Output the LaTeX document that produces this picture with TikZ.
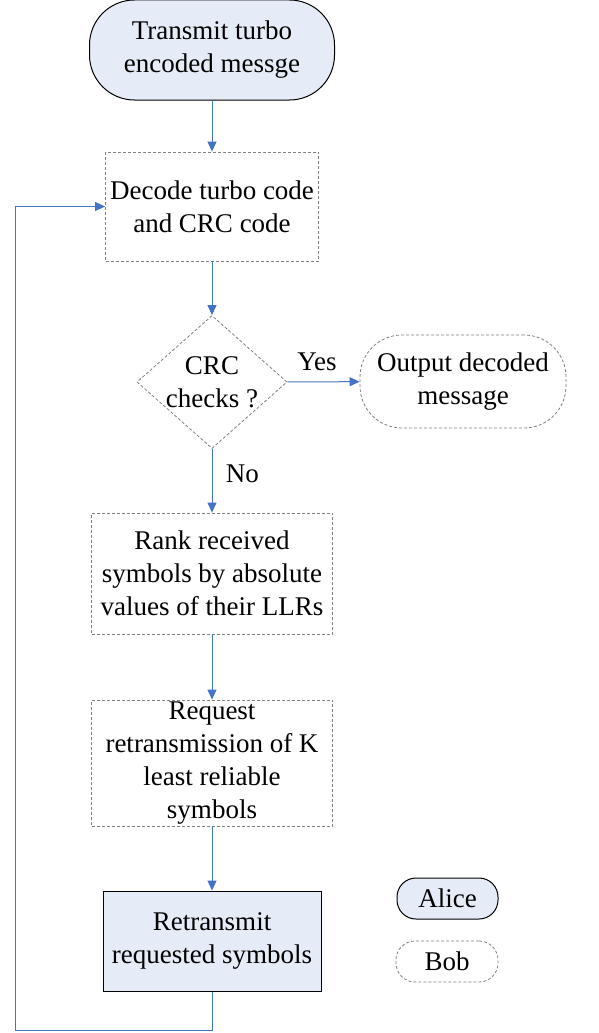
\documentclass[tikz,border=0pt]{standalone}
\usepackage{fontspec}
\setmainfont{Liberation Serif}
\usetikzlibrary{shapes.geometric, arrows.meta}
\definecolor{flowblue}{RGB}{68,114,196}
\definecolor{alicefill}{RGB}{230,236,247}
\definecolor{bobline}{RGB}{128,128,128}

\begin{document}
\begin{tikzpicture}[
    x=1pt, y=-1pt,
    font=\fontsize{27}{33}\selectfont,
    flow/.style={-{Triangle[length=10pt, width=9pt]}, line width=1pt, color=flowblue},
    answer/.style={text=black},
    alicebox/.style={draw=black, line width=1pt, fill=alicefill, align=center, inner sep=0pt},
    bobbox/.style={draw=bobline, line width=0.8pt, dash pattern=on 3pt off 2pt, align=center, inner sep=0pt},
    decision/.style={diamond, bobbox, shape aspect=1.13, minimum width=150pt, minimum height=133pt}
]
    \useasboundingbox (0,0) rectangle (598,1033);

    \node[alicebox, rounded corners=45pt, minimum width=245pt, minimum height=100pt] (send) at (212,50) {Transmit turbo\\encoded messge};
    \node[bobbox, minimum width=213pt, minimum height=109pt] (decode) at (212,206.5) {Decode turbo code\\and CRC code};
    \node[decision] (check) at (212,382) {CRC\\checks ?};
    \node[bobbox, rounded corners=42pt, minimum width=206pt, minimum height=93pt] (output) at (463,381.5) {Output decoded\\message};
    \node[bobbox, minimum width=241pt, minimum height=121pt] (rank) at (212,573.5) {Rank received\\symbols by absolute\\values of their LLRs};
    \node[bobbox, minimum width=241pt, minimum height=126pt] (request) at (212,763) {Request\\retransmission of K\\least reliable\\symbols};
    \node[alicebox, minimum width=218pt, minimum height=100pt] (resend) at (212,941) {Retransmit\\requested symbols};

    % legend
    \node[alicebox, rounded corners=19pt, minimum width=101pt, minimum height=41pt] (alice) at (447.5,898.5) {Alice};
    \node[bobbox, rounded corners=19pt, minimum width=102pt, minimum height=41pt] (bob) at (447,961.5) {Bob};

    \draw[flow] (send) -- (decode);
    \draw[flow] (decode) -- (check);
    \draw[flow] (check) -- node[answer, above, pos=0.41, yshift=7pt] {Yes} (output);
    \draw[flow] (check) -- node[answer, right, pos=0.39, xshift=10pt] {No} (rank);
    \draw[flow] (rank) -- (request);
    \draw[flow] (request) -- (resend);

    \coordinate (back) at (15,1030);
    \draw[flow] (resend.south) |- (back) |- (decode.west);
\end{tikzpicture}
\end{document}
